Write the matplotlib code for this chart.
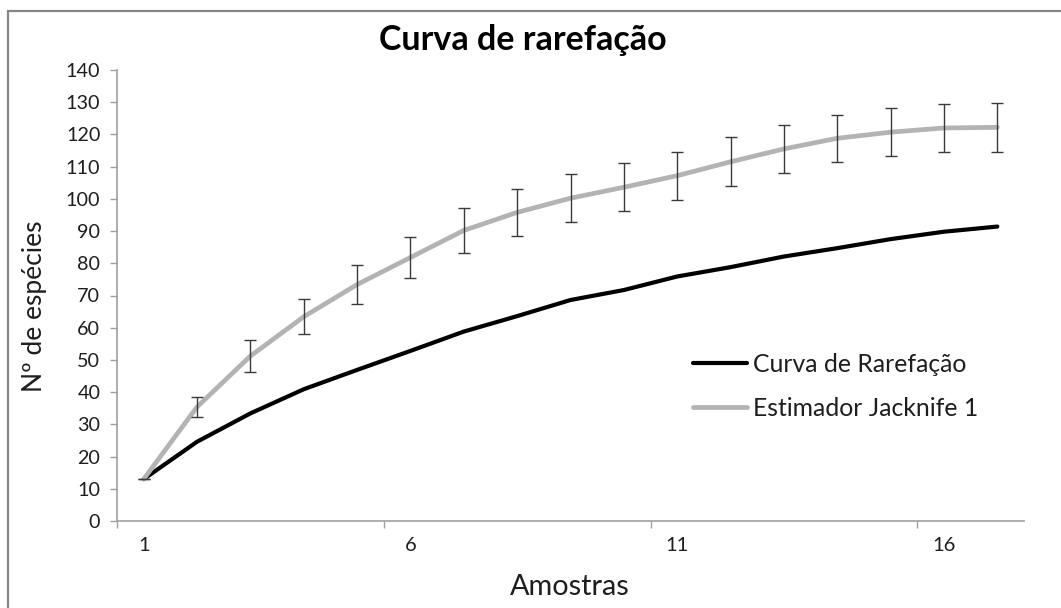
import matplotlib
matplotlib.use("Agg")
import matplotlib.pyplot as plt
from matplotlib.patches import Rectangle

plt.rcParams['font.family'] = ['Lato', 'DejaVu Sans']

# ---- data ----
samples = list(range(1, 18))
rarefacao = [13, 24.6, 33.4, 40.9, 46.9, 52.8, 58.8, 63.6, 68.6, 71.7,
             75.9, 78.8, 82.1, 84.7, 87.5, 89.8, 91.4]
jacknife = [13, 35.4, 51.2, 63.4, 73.4, 81.8, 90.2, 95.8, 100.2, 103.6,
            107.2, 111.5, 115.5, 118.8, 120.7, 122.0, 122.2]
jack_err = [0, 3.1, 5.0, 5.5, 6.1, 6.5, 7.1, 7.4, 7.5, 7.5,
            7.5, 7.6, 7.5, 7.3, 7.45, 7.5, 7.5]
xtick_labels = ['1', '6', '11', '16']
xtick_pos = [1, 6, 11, 16]
yticks = list(range(0, 141, 10))

W, H = 1061, 608
fig = plt.figure(figsize=(W / 100, H / 100), dpi=100)
fig.patch.set_facecolor('white')

def fx(px):
    return px / W

def fy(py):
    return 1 - py / H

# outer chart border
fig.add_artist(Rectangle((fx(8), -0.1), 1.2, fy(11) + 0.1,
                         transform=fig.transFigure, fill=False,
                         edgecolor='#868686', linewidth=1.6))

ax = fig.add_axes([fx(117), fy(521), (1024 - 117) / W, (521 - 70) / H])
ax.set_xlim(0.5, 17.5)
ax.set_ylim(0, 140)

axis_col = '#A0A0A0'
text_col = '#1e1e1e'
for s in ['top', 'right']:
    ax.spines[s].set_visible(False)
for s in ['left', 'bottom']:
    ax.spines[s].set_color(axis_col)
    ax.spines[s].set_linewidth(1.2)

ax.set_yticks(yticks)
ax.tick_params(axis='y', direction='out', length=5, width=1.0, color=axis_col,
               labelsize=14.2, labelcolor=text_col, pad=7)
ax.set_xticks([0.5, 5.5, 10.5, 15.5])
ax.set_xticklabels([''] * 4)
ax.tick_params(axis='x', which='major', direction='out', length=5, width=1.0,
               color=axis_col)
ax.set_xticks(xtick_pos, minor=True)
ax.set_xticklabels(xtick_labels, minor=True)
ax.tick_params(axis='x', which='minor', length=0, labelsize=14.5,
               labelcolor=text_col, pad=11.5)

l1, = ax.plot(samples, rarefacao, color='black', linewidth=3.0,
              solid_joinstyle='round', solid_capstyle='round', zorder=3,
              label='Curva de Rarefação')
l2, = ax.plot(samples, jacknife, color='#B3B3B3', linewidth=3.4,
              solid_joinstyle='round', solid_capstyle='round', zorder=4,
              label='Estimador Jacknife 1')
ax.errorbar(samples, jacknife, yerr=jack_err, fmt='none', ecolor='#3a3a3a',
            elinewidth=1.0, capsize=4.6, capthick=1.0, zorder=5)

fs_leg = 17.8
leg = ax.legend(handles=[l1, l2], loc='center left',
                bbox_to_anchor=(fx(693), fy(386.5)), bbox_transform=fig.transFigure,
                frameon=False, fontsize=fs_leg, handlelength=54 / (fs_leg * 100 / 72),
                handletextpad=6 / (fs_leg * 100 / 72), labelspacing=0.85,
                borderpad=0, borderaxespad=0)
for t in leg.get_texts():
    t.set_color(text_col)

fig.text(fx(522.5), fy(50), 'Curva de rarefação', ha='center', va='baseline',
         fontsize=24.5, fontweight='bold', color='black')
fig.text(fx(570), fy(595), 'Amostras', ha='center', va='baseline',
         fontsize=20.8, color=text_col)
fig.text(fx(35), fy(306.5), 'Nº de espécies', ha='center', va='center',
         rotation=90, fontsize=19, color=text_col)

fig.savefig('out.png', dpi=100, facecolor='white')
